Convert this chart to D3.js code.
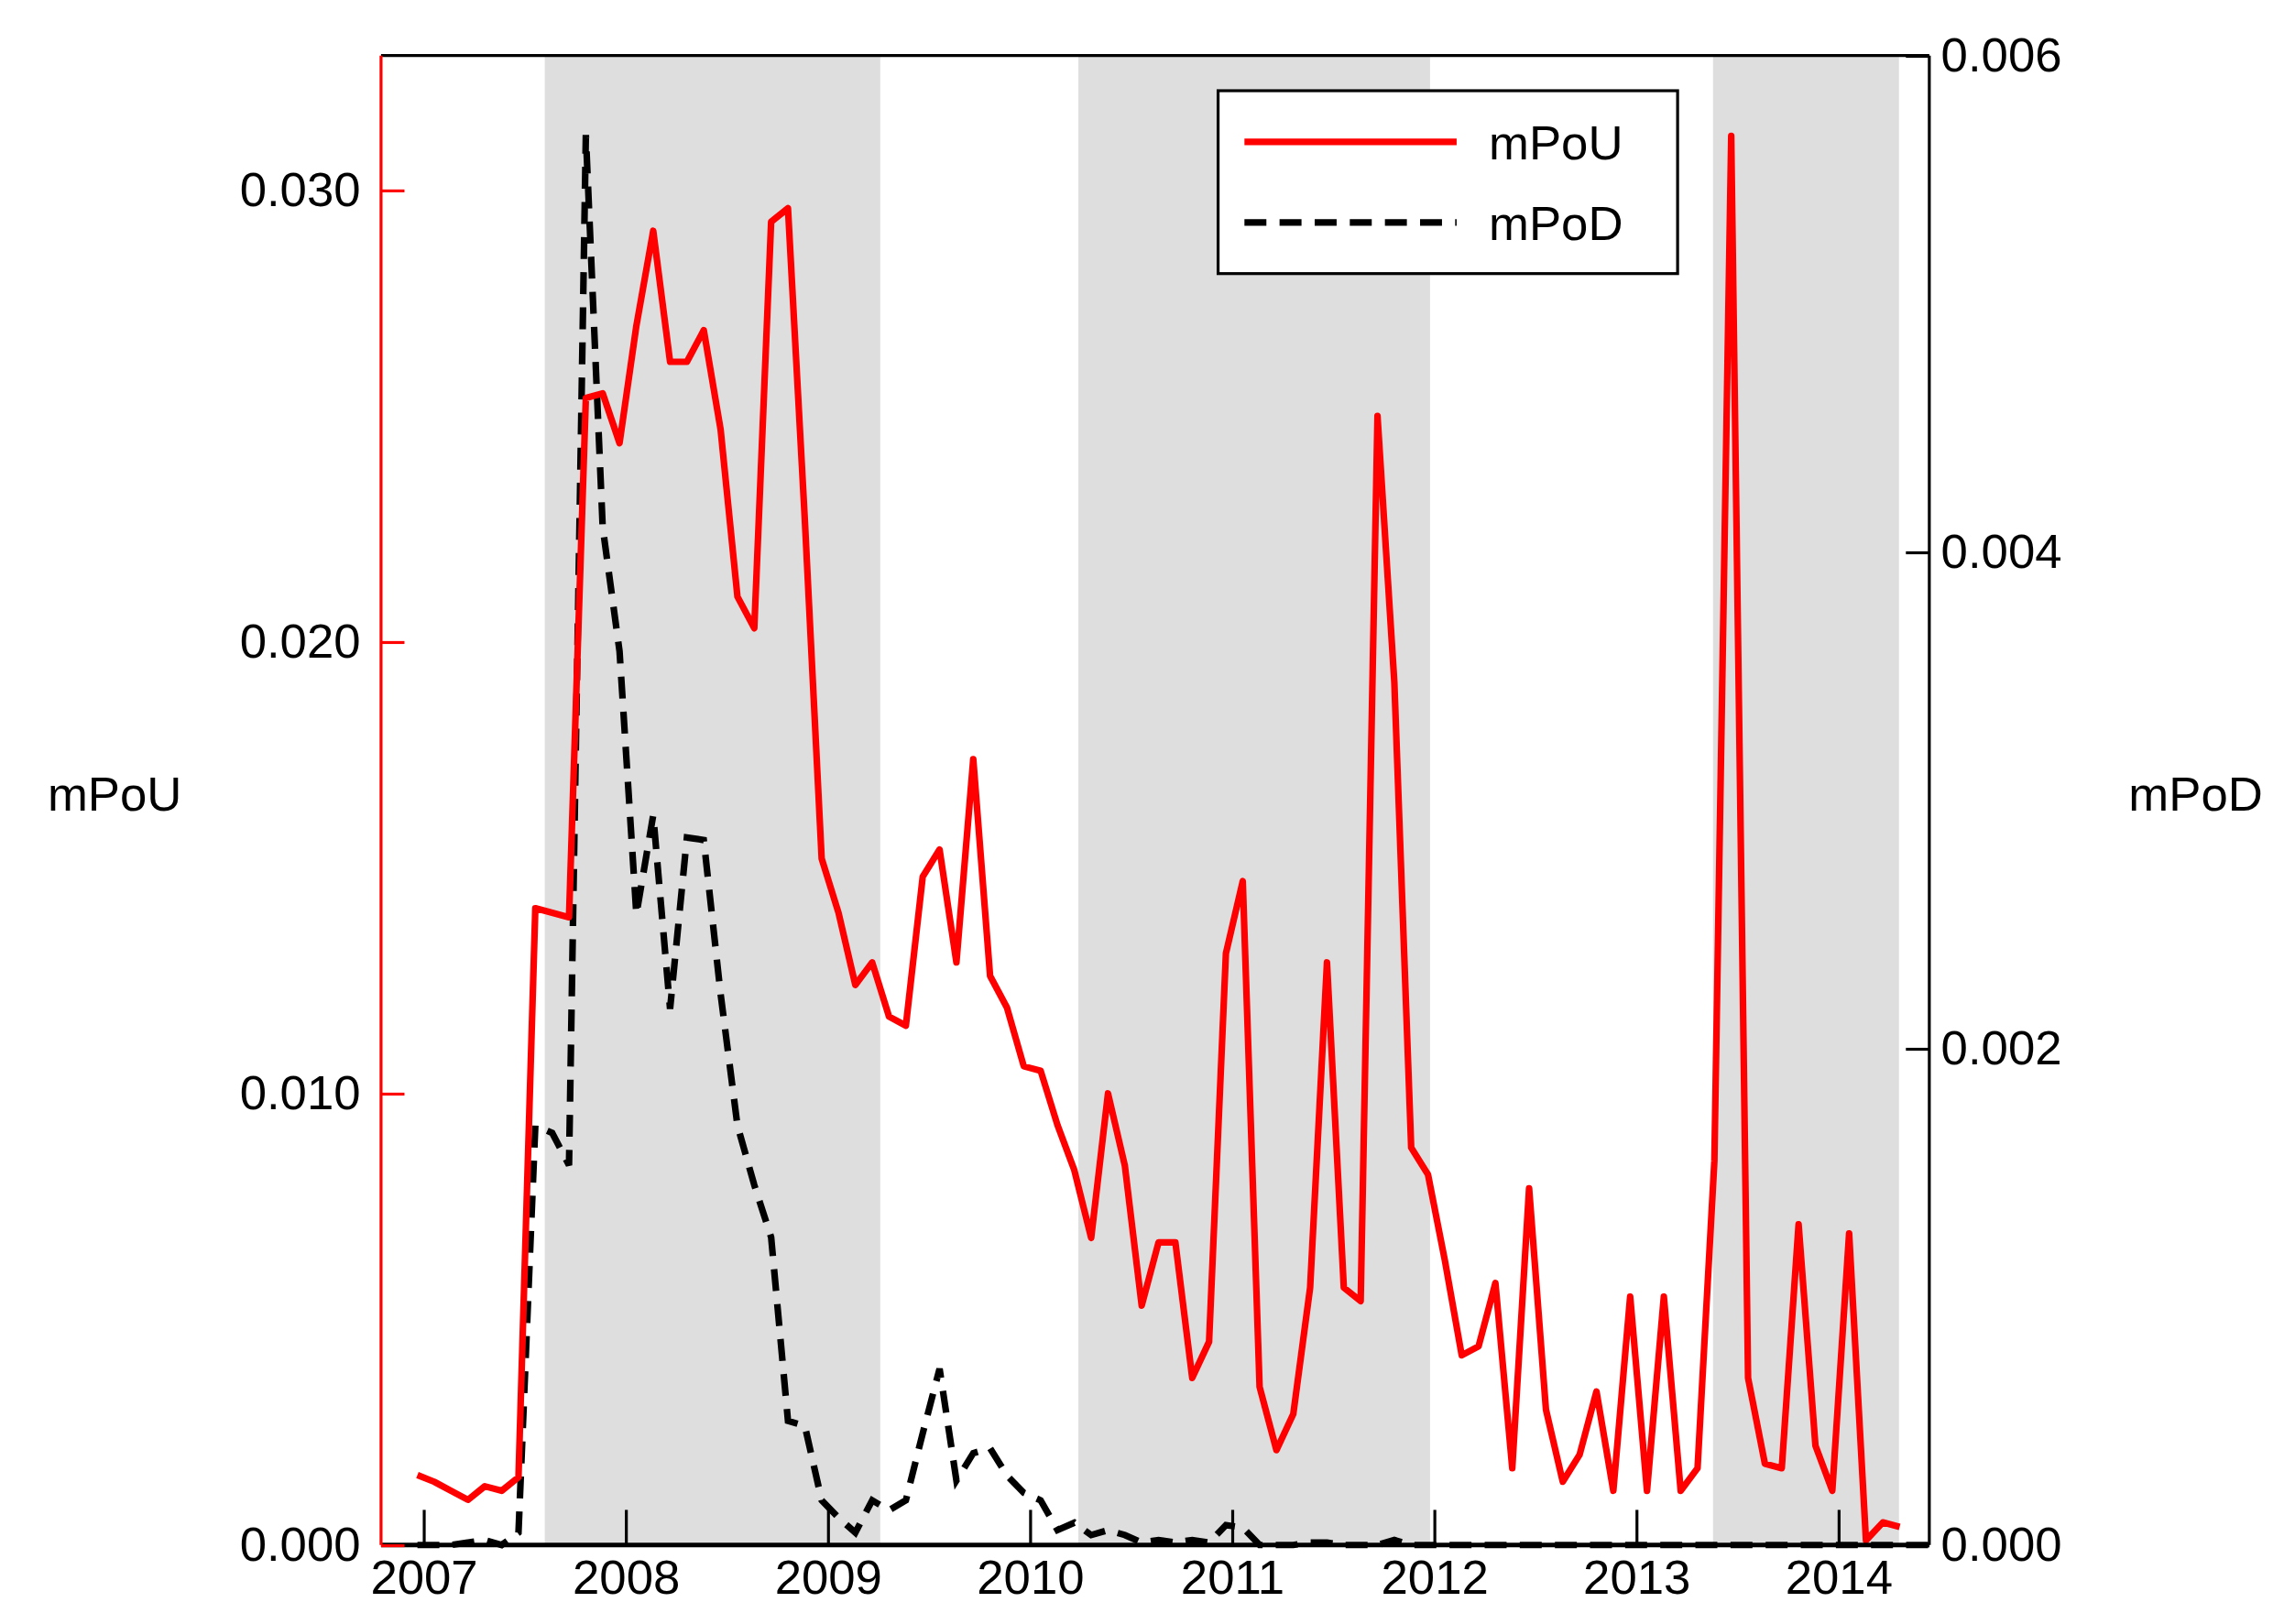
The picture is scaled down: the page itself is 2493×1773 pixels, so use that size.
<!DOCTYPE html>
<html><head><meta charset="utf-8">
<script src="https://cdn.jsdelivr.net/npm/d3@7"></script>
<style>body{margin:0;background:#fff}</style></head>
<body><svg id="chart" width="2493" height="1773"></svg>
<script>
// monthly series, first point mid-Dec 2006
const startYear = 2006.97;
const mPoU = [0.00155,0.0014,0.0012,0.0010,0.0013,0.0012,0.0015,0.0141,0.0140,0.0139,0.0254,0.0255,0.0244,0.0270,0.0291,0.0262,0.0262,0.0269,0.0247,0.0210,0.0203,0.0293,0.0296,0.0227,0.0152,0.0140,0.0124,0.0129,0.0117,0.0115,0.0148,0.0154,0.0129,0.0174,0.0126,0.0119,0.0106,0.0105,0.0093,0.0083,0.0068,0.0100,0.0084,0.0053,0.0067,0.0067,0.0037,0.0045,0.0131,0.0147,0.0035,0.0021,0.0029,0.0057,0.0129,0.0057,0.0054,0.0250,0.0191,0.0088,0.0082,0.0063,0.0042,0.0044,0.0058,0.0017,0.0079,0.0030,0.0014,0.0020,0.0034,0.0012,0.0055,0.0012,0.0055,0.0012,0.0017,0.0085,0.0312,0.0037,0.0018,0.0017,0.0071,0.0022,0.0012,0.0069,0.0001,0.0005,0.0004];
const mPoD = [0,0,0,0.00001,0.00002,0,0.00005,0.00169,0.00166,0.00153,0.00568,0.0041,0.0036,0.00254,0.00294,0.00216,0.00285,0.00284,0.00222,0.00169,0.00145,0.00124,0.0005,0.00048,0.00018,0.00011,0.00005,0.00018,0.00014,0.00018,0.00045,0.00071,0.00026,0.00037,0.00039,0.00028,0.00021,0.00018,0.00006,0.00009,0.00004,0.00006,0.00004,0.00001,0.00002,0.00001,0.00002,0.00001,0.00008,0.00007,0,0,0,0.00001,0.00001,0,0,0,0.00002,0,0,0,0,0,0,0,0,0,0,0,0,0,0,0,0,0,0,0,0,0,0,0,0,0,0,0,0,0,0,0,0];
const shaded = [[2007.60,2009.26],[2010.24,2011.98],[2013.38,2014.30]];
const years = [2007,2008,2009,2010,2011,2012,2013,2014];
const leftTicks = [0,0.01,0.02,0.03];
const rightTicks = [0,0.002,0.004,0.006];

const svg = d3.select("#chart").attr("viewBox",[0,0,1560,1110]);
const font = "Liberation Sans, Arial, sans-serif";
const L=260, R=1318, T=38, B=1056;

const x = d3.scaleLinear().domain([2006.79,2014.45]).range([L,R]);
const yL = d3.scaleLinear().domain([0,0.03298]).range([B,T]);
const yR = d3.scaleLinear().domain([0,0.006]).range([B,T]);

svg.selectAll("rect.band").data(shaded).join("rect")
  .attr("x",d=>x(d[0])).attr("width",d=>x(d[1])-x(d[0]))
  .attr("y",T).attr("height",B-T).attr("fill","#dedede");

const t = i => startYear + i/12;
svg.append("path").datum(mPoD)
  .attr("d",d3.line().x((d,i)=>x(t(i))).y(d=>yR(d)))
  .attr("fill","none").attr("stroke","#000").attr("stroke-width",4.5).attr("stroke-dasharray","15,9");
svg.append("path").datum(mPoU)
  .attr("d",d3.line().x((d,i)=>x(t(i))).y(d=>yL(d)))
  .attr("fill","none").attr("stroke","#f00").attr("stroke-width",4.5).attr("stroke-linejoin","round");

// frame
svg.append("line").attr("x1",L).attr("x2",R).attr("y1",T).attr("y2",T).attr("stroke","#000").attr("stroke-width",2);
svg.append("line").attr("x1",L).attr("x2",R).attr("y1",B).attr("y2",B).attr("stroke","#000").attr("stroke-width",3);
svg.append("line").attr("x1",R).attr("x2",R).attr("y1",T).attr("y2",B).attr("stroke","#000").attr("stroke-width",2);
svg.append("line").attr("x1",L).attr("x2",L).attr("y1",T).attr("y2",B).attr("stroke","#f00").attr("stroke-width",2);

const fs = 33;
const gx = svg.append("g").attr("transform",`translate(0,${B})`)
  .call(d3.axisBottom(x).tickValues(years).tickFormat(d3.format("d")).tickSizeInner(-24).tickSizeOuter(0).tickPadding(10));
const gl = svg.append("g").attr("transform",`translate(${L},0)`)
  .call(d3.axisLeft(yL).tickValues(leftTicks).tickFormat(d3.format(".3f")).tickSizeInner(-16).tickSizeOuter(0).tickPadding(10));
const gr = svg.append("g").attr("transform",`translate(${R},0)`)
  .call(d3.axisRight(yR).tickValues(rightTicks).tickFormat(d3.format(".3f")).tickSizeInner(16).tickSizeOuter(0).tickPadding(10));
[gx,gl,gr].forEach(g=>{g.select(".domain").remove();
  g.selectAll("text").attr("font-size",fs).attr("font-family",font).attr("fill","#000");
  g.selectAll("line").attr("stroke-width",2);});
gl.selectAll("line").attr("stroke","#f00");
gl.selectAll("text").attr("dx",-4);
gr.selectAll(".tick line").attr("x1",-16).attr("x2",0);
gr.selectAll("text").attr("x",8);

svg.append("text").attr("x",78).attr("y",554).attr("text-anchor","middle").attr("font-size",fs).attr("font-family",font).text("mPoU");
svg.append("text").attr("x",1500).attr("y",554).attr("text-anchor","middle").attr("font-size",fs).attr("font-family",font).text("mPoD");

// legend
const lg = svg.append("g");
lg.append("rect").attr("x",832).attr("y",62).attr("width",314).attr("height",125).attr("fill","#fff").attr("stroke","#000").attr("stroke-width",2);
const items = [["mPoU","#f00",null],["mPoD","#000","15,9"]];
items.forEach((it,i)=>{
  const yy = 97+i*55;
  lg.append("line").attr("x1",850).attr("x2",995).attr("y1",yy).attr("y2",yy).attr("stroke",it[1]).attr("stroke-width",4.5).attr("stroke-dasharray",it[2]);
  lg.append("text").attr("x",1017).attr("y",yy+12).attr("font-size",fs).attr("font-family",font).text(it[0]);
});
</script></body></html>
